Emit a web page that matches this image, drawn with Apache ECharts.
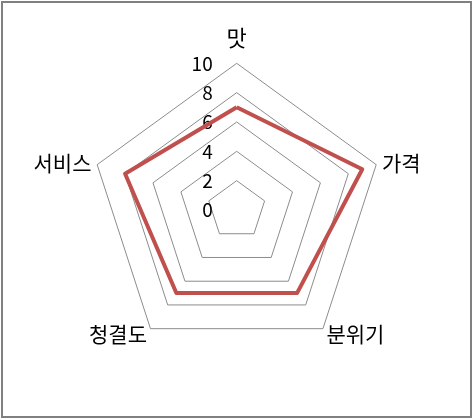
<!DOCTYPE html>
<html><head><meta charset="utf-8">
<script src="https://cdn.jsdelivr.net/npm/echarts@6/dist/echarts.min.js"></script>
<style>html,body{margin:0;padding:0;background:#fff}#c{width:473px;height:420px}</style>
</head><body><div id="c"></div>
<script>
// Categories in clockwise order starting from the top
const categories = ['맛', '가격', '분위기', '청결도', '서비스'];
const values = [7, 9, 7, 7, 8];
const maxValue = 10;
const tickInterval = 2;

// ECharts radar runs counter-clockwise; reorder so the drawing runs clockwise
const order = [0, 4, 3, 2, 1];
const cats = order.map(i => categories[i]);
const vals = order.map(i => values[i]);

const chart = echarts.init(document.getElementById('c'));
const font = '"Noto Sans CJK KR", "Noto Sans", sans-serif';
chart.setOption({
  animation: false,
  graphic: [{
    type: 'rect', shape: {x: 2, y: 2, width: 469, height: 415},
    style: {fill: 'none', stroke: '#808080', lineWidth: 2}
  }],
  radar: {
    center: [236.7, 210],
    radius: 146.7,
    startAngle: 90,
    splitNumber: maxValue / tickInterval,
    shape: 'polygon',
    indicator: cats.map((n, i) => ({
      name: n, min: 0, max: maxValue,
      axisLabel: {show: i === 0}
    })),
    axisName: {
      color: '#000', fontSize: 21, fontFamily: font,
      formatter: (name) => name === categories[0] ? '{top|' + name + '}' : name,
      rich: {top: {color: '#000', fontSize: 22, fontFamily: font, padding: [0, 0, 9, 0]}}
    },
    nameGap: 6,
    axisLine: {show: false},
    axisTick: {show: false},
    axisLabel: {show: false, color: '#000', fontSize: 19, fontFamily: font, margin: 24},
    splitLine: {lineStyle: {color: '#8c8c8c', width: 1}},
    splitArea: {show: false}
  },
  series: [{
    type: 'radar',
    symbol: 'none',
    lineStyle: {color: '#C0504D', width: 4},
    data: [{value: vals}]
  }]
});
</script></body></html>
